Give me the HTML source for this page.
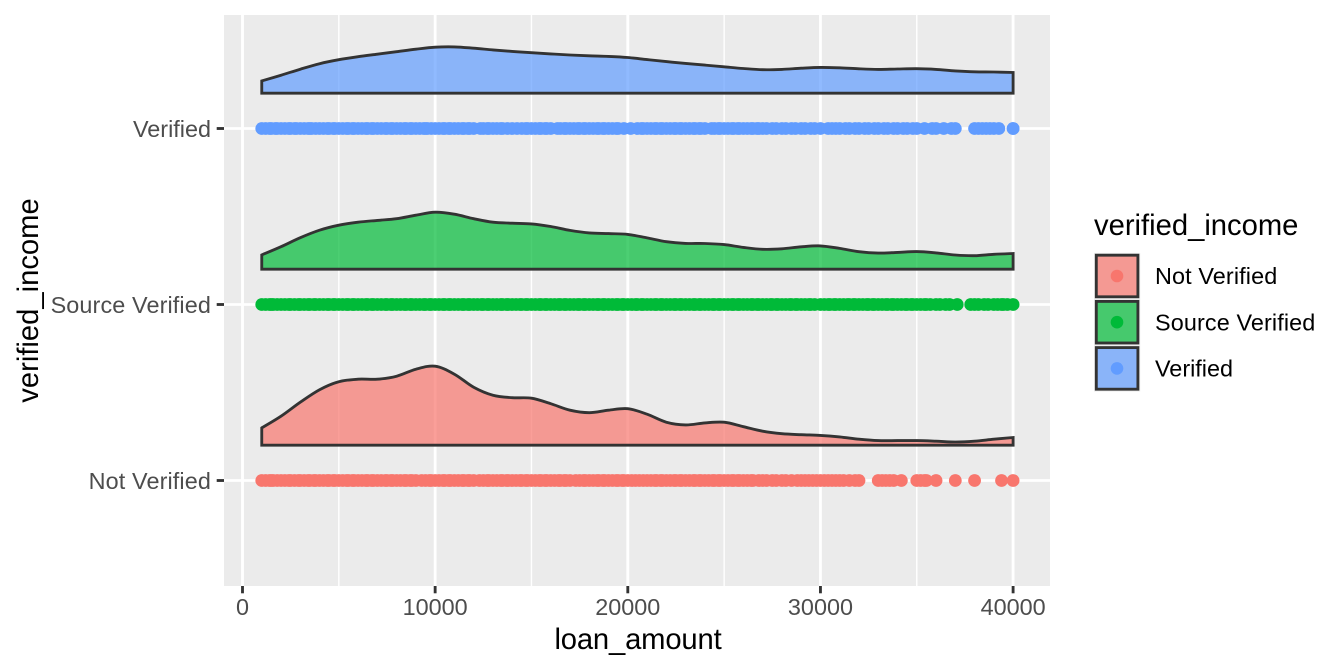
<!DOCTYPE html>
<html lang="en">
<head>
<meta charset="utf-8">
<title>loan_amount by verified_income</title>
<style>
html,body{margin:0;padding:0;background:#fff;width:1344px;height:672px;overflow:hidden}
svg{display:block}
text{font-family:"Liberation Sans",Arial,sans-serif}
</style>
</head>
<body>
<svg id="chart" xmlns="http://www.w3.org/2000/svg" width="1344" height="672" viewBox="0 0 1344 672"></svg>
<script>
const categories = ['Not Verified', 'Source Verified', 'Verified'];
const seriesColors = ['#F8766D', '#00BA38', '#619CFF'];
const xTicks = [0, 10000, 20000, 30000, 40000];
const xMinorTicks = [5000, 15000, 25000, 35000];
const densityAmounts = [1000,2000,3000,4000,5000,6000,7000,8000,9000,10000,11000,12000,13000,14000,15000,16000,17000,18000,19000,20000,21000,22000,23000,24000,25000,26000,27000,28000,29000,30000,31000,32000,33000,34000,35000,36000,37000,38000,39000,40000];
const densityNotVerified = [17.3,29,43,55.5,63.5,66,66,69,76,79,71,58,50,47.5,47,41.5,35,32.5,35,36.5,31,23,20.3,22.3,23,18.5,14,11.5,10.5,9.8,8.3,6,4.6,4.6,4.6,4,3.2,4,6,7.7];
const densitySourceVerified = [14.3,22.5,31.5,39,44,47,48.8,50.5,54,57,55,50.5,47,46,45.3,42.7,38.8,36.3,35.6,34.8,31.3,27.5,25.8,25.7,24.6,21.8,19.9,20.4,22.4,23.3,20.8,17.5,16.1,16.8,17.6,16.3,14.2,13.5,14.9,15.7];
const densityVerified = [12.3,18,24,29.5,33.5,36.5,39,41.5,44,46,46.3,45,43.3,41.8,40.5,39.3,38.2,37.4,36.8,35.7,33.6,31.6,29.8,28.1,26.4,24.7,23.5,23.8,25,25.8,25.4,24.4,23.8,24.2,24.5,23.8,22.3,21.4,21.2,20.7];
const loansNotVerified = [1000,1200,1400,1500,1600,1800,2000,2200,2400,2500,2700,2900,3000,3200,3400,3500,3700,3800,4000,4200,4400,4500,4700,4800,5000,5200,5400,5500,5700,5800,6000,6200,6400,6500,6700,6800,7000,7200,7400,7500,7700,7800,8000,8200,8400,8500,8700,8800,9000,9300,9500,9700,9800,10000,10200,10400,10500,10700,10800,11000,11200,11400,11500,11700,11800,12000,12300,12500,12700,12800,13000,13200,13400,13500,13700,13800,14000,14200,14400,14500,14700,14800,15000,15200,15400,15500,15700,15800,16000,16200,16400,16500,16700,16800,17000,17300,17500,17700,17800,18000,18200,18400,18500,18700,18800,19000,19200,19400,19500,19700,19800,20000,20200,20400,20600,20800,21000,21200,21400,21500,21700,21800,22000,22200,22400,22500,22700,22800,23000,23200,23400,23500,23700,23800,24000,24200,24400,24500,24700,24800,25000,25200,25400,25500,25700,25800,26000,26200,26400,26500,26800,27000,27200,27500,27700,28000,28200,28500,28800,29000,29200,29400,29600,29800,30000,30200,30400,30600,30800,31000,31200,31500,31800,32000,33000,33200,33400,33600,33800,34200,35000,35200,35400,35500,36000,37000,38000,39400,40000];
const loansSourceVerified = [1000,1200,1400,1500,1600,1800,2000,2200,2400,2500,2700,2900,3000,3200,3400,3500,3700,3800,4000,4200,4400,4500,4700,4800,5000,5200,5400,5500,5700,5800,6000,6200,6400,6500,6700,6800,7000,7200,7400,7500,7700,7800,8000,8200,8400,8500,8700,8800,9000,9200,9400,9500,9700,9800,10000,10200,10400,10500,10700,10800,11000,11200,11400,11500,11700,11800,12000,12200,12400,12500,12700,12800,13000,13200,13400,13500,13700,13800,14000,14200,14400,14500,14700,14800,15000,15200,15400,15500,15700,15800,16000,16200,16400,16500,16700,16800,17000,17200,17400,17500,17700,17800,18000,18200,18400,18500,18700,18800,19000,19200,19400,19500,19700,19800,20000,20200,20400,20500,20700,20800,21000,21200,21400,21500,21700,21800,22000,22200,22400,22500,22700,22800,23000,23200,23400,23500,23700,23800,24000,24200,24400,24500,24700,24800,25000,25200,25400,25500,25700,25800,26000,26200,26400,26500,26700,26800,27000,27200,27400,27500,27700,27800,28000,28200,28400,28500,28700,28800,29000,29200,29400,29500,29700,30000,30200,30400,30500,30700,30800,31000,31200,31400,31500,31700,31800,32000,32200,32400,32500,32700,32800,33000,33200,33400,33500,33700,33800,34000,34200,34400,34500,34700,34800,35000,35200,35400,35500,35700,36000,36200,36500,36700,37100,37800,38000,38200,38500,38700,39000,39200,39400,39500,39700,40000];
const loansVerified = [1000,1200,1400,1500,1700,1800,2000,2200,2400,2500,2700,2800,3000,3200,3400,3500,3600,3800,4000,4200,4400,4500,4700,4800,5000,5200,5400,5500,5700,5800,6000,6200,6400,6500,6700,6800,7000,7200,7400,7500,7700,7800,8000,8200,8400,8500,8700,8800,9000,9200,9400,9500,9600,9800,10000,10200,10400,10500,10700,10800,11000,11200,11400,11500,11700,11800,12000,12350,12500,12700,12800,13000,13200,13400,13500,13750,14000,14250,14500,14700,14800,15000,15200,15400,15500,15700,15800,16000,16350,16500,16700,16800,17000,17200,17400,17500,17700,17800,18000,18200,18400,18500,18700,18800,19000,19200,19400,19500,19800,20150,20500,20700,20800,21000,21200,21400,21500,21700,21800,22000,22200,22400,22500,22700,22800,23000,23200,23400,23500,23700,23800,24000,24350,24500,24700,24800,25000,25200,25400,25500,25700,25800,26000,26200,26400,26500,26700,26800,27000,27200,27500,27700,28000,28200,28500,28700,29000,29200,29500,29700,30000,30400,30600,30800,31000,31300,31500,31800,32000,32300,32500,32800,33000,33300,33500,33800,34000,34300,34500,34800,35000,35400,35800,36000,36400,36800,37000,38000,38200,38400,38600,38800,39000,39260,40000,40000];

const NS = 'http://www.w3.org/2000/svg';
const svg = document.getElementById('chart');
const panel = {left: 224, right: 1050, top: 15, bottom: 586};
const xScale = v => 242.5 + v * 0.019265;
const yBand = i => 480.5 - i * 176;
const ridgeBase = i => yBand(i) - 35.3;
const densityScale = v => v * 1;
const densitySeries = [densityNotVerified, densitySourceVerified, densityVerified];
const loanSeries = [loansNotVerified, loansSourceVerified, loansVerified];

function add(parent, tag, attrs, text) {
  const el = document.createElementNS(NS, tag);
  for (const k in attrs) el.setAttribute(k, attrs[k]);
  if (text !== undefined) el.textContent = text;
  parent.appendChild(el);
  return el;
}

function ridgePath(values, base) {
  const pts = densityAmounts.map((a, i) => [xScale(a), base - densityScale(values[i])]);
  let d = 'M' + pts[0][0].toFixed(2) + ' ' + base + 'L' + pts[0][0].toFixed(2) + ' ' + pts[0][1].toFixed(2);
  for (let i = 0; i < pts.length - 1; i++) {
    const p0 = pts[Math.max(i - 1, 0)], p1 = pts[i], p2 = pts[i + 1], p3 = pts[Math.min(i + 2, pts.length - 1)];
    const c1x = p1[0] + (p2[0] - p0[0]) / 6, c1y = p1[1] + (p2[1] - p0[1]) / 6;
    const c2x = p2[0] - (p3[0] - p1[0]) / 6, c2y = p2[1] - (p3[1] - p1[1]) / 6;
    d += 'C' + c1x.toFixed(2) + ' ' + c1y.toFixed(2) + ' ' + c2x.toFixed(2) + ' ' + c2y.toFixed(2) + ' ' + p2[0].toFixed(2) + ' ' + p2[1].toFixed(2);
  }
  d += 'L' + pts[pts.length - 1][0].toFixed(2) + ' ' + base + 'Z';
  return d;
}

const bg = add(svg, 'rect', {x: panel.left, y: panel.top, width: panel.right - panel.left, height: panel.bottom - panel.top, fill: '#EBEBEB'});



xMinorTicks.forEach(t => {
  const l = add(svg, 'line', {x1: xScale(t), x2: xScale(t), y1: panel.top, y2: panel.bottom, stroke: '#fff', 'stroke-width': 1.42});
  
  
});
xTicks.forEach(t => {
  const l = add(svg, 'line', {x1: xScale(t), x2: xScale(t), y1: panel.top, y2: panel.bottom, stroke: '#fff', 'stroke-width': 2.85});
  
  
});
categories.forEach((c, i) => {
  const l = add(svg, 'line', {x1: panel.left, x2: panel.right, y1: yBand(i), y2: yBand(i), stroke: '#fff', 'stroke-width': 2.85});
  
  
});

categories.forEach((c, i) => {
  const slug = c.toLowerCase().replace(' ', '-');
  const g = add(svg, 'g', {});
  
  
  loanSeries[i].forEach(v => {
    const pt = add(g, 'circle', {cx: xScale(v).toFixed(2), cy: yBand(i), r: 6.4, fill: seriesColors[i]});
    
    
  });
  const r = add(svg, 'path', {d: ridgePath(densitySeries[i], ridgeBase(i)), fill: seriesColors[i], 'fill-opacity': 0.7, stroke: '#333333', 'stroke-width': 2.85, 'stroke-linejoin': 'miter'});
  
  
});

xTicks.forEach(t => {
  const tk = add(svg, 'line', {x1: xScale(t), x2: xScale(t), y1: panel.bottom, y2: panel.bottom + 7.3, stroke: '#333333', 'stroke-width': 2.85});
  
  
  const lb = add(svg, 'text', {x: xScale(t), y: 615, 'text-anchor': 'middle', 'font-size': 23.4, fill: '#4D4D4D'}, String(t));
  
  
});
categories.forEach((c, i) => {
  const tk = add(svg, 'line', {x1: panel.left - 7.3, x2: panel.left, y1: yBand(i), y2: yBand(i), stroke: '#333333', 'stroke-width': 2.85});
  
  
  const lb = add(svg, 'text', {x: 211, y: yBand(i) + 8.3, 'text-anchor': 'end', 'font-size': 23.4, 'letter-spacing': c.length > 8 ? 0.12 : 0, fill: '#4D4D4D'}, c);
  
  
});

const xTitle = add(svg, 'text', {x: 638, y: 649, 'text-anchor': 'middle', 'font-size': 29.2, 'letter-spacing': -0.15, fill: '#000'}, 'loan_amount');


const yTitle = add(svg, 'text', {x: 0, y: 0, transform: 'translate(38 300.5) rotate(-90)', 'text-anchor': 'middle', 'font-size': 29.2, fill: '#000'}, 'verified_income');



const legendTitle = add(svg, 'text', {x: 1094, y: 235, 'font-size': 29.2, fill: '#000'}, 'verified_income');


categories.forEach((c, i) => {
  const cy = 276 + i * 46.2;
  const key = add(svg, 'rect', {x: 1094, y: cy - 23.1, width: 46.2, height: 46.2, fill: '#EBEBEB'});
  
  
  const swatch = add(svg, 'rect', {x: 1096.3, y: cy - 20.8, width: 41.6, height: 41.6, fill: seriesColors[i], 'fill-opacity': 0.7, stroke: '#333333', 'stroke-width': 2.85});
  
  
  const dot = add(svg, 'circle', {cx: 1117, cy: cy, r: 6.3, fill: seriesColors[i]});
  
  
  const lb = add(svg, 'text', {x: 1155, y: cy + 8.2, 'font-size': 23.4, 'letter-spacing': c.length > 8 ? 0.12 : 0, fill: '#000'}, c);
  
  
});
</script>
</body>
</html>
